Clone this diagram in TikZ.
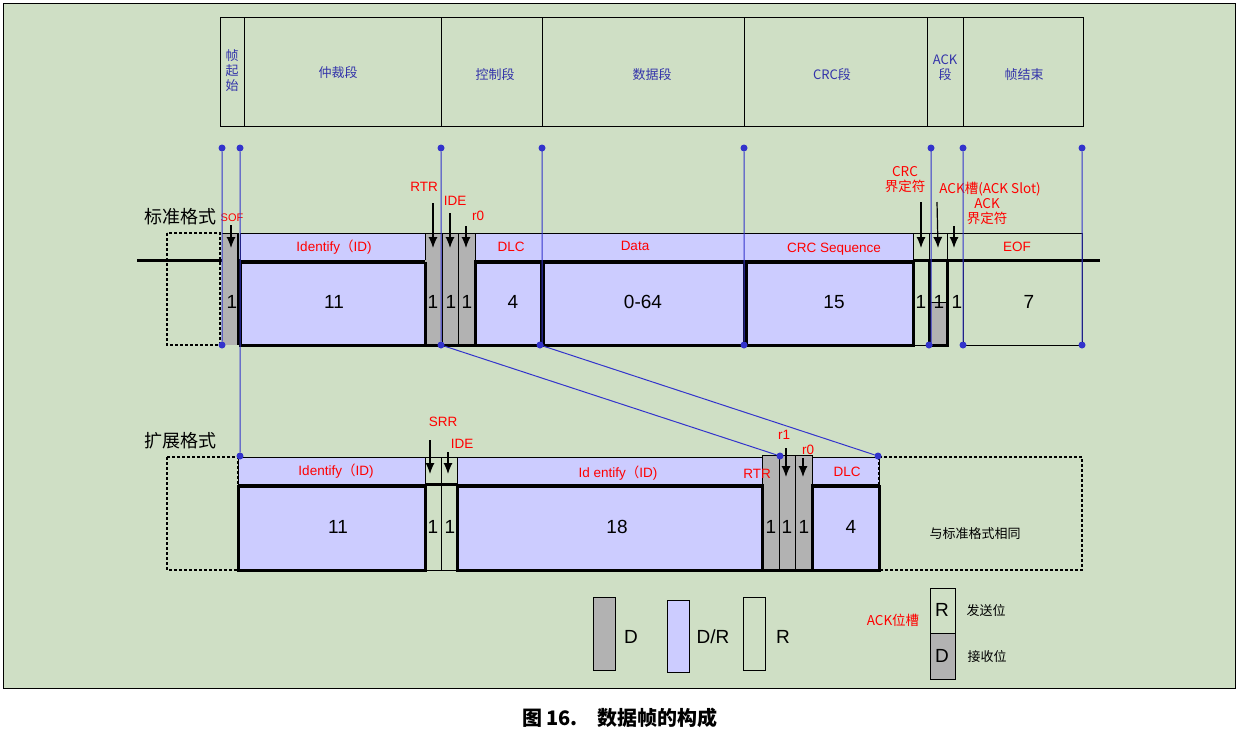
\documentclass[tikz,border=0pt]{standalone}
\usepackage{fontspec}
\usetikzlibrary{arrows.meta}
\setmainfont{Liberation Sans}
\newfontfamily\cjk{Noto Sans CJK SC}
\newcommand{\lp}{{\cjk （}}
\begin{document}
\begin{tikzpicture}[x=1pt,y=-1pt,
  lav/.style={fill=lavC},
  gry/.style={fill=gryC},
  thk/.style={line width=3pt},
  thn/.style={line width=0.8pt},
  dsh/.style={line width=2.5pt,dash pattern=on 3pt off 2pt},
  num/.style={font=\fontsize{19}{19}\selectfont},
  rl/.style={text=red,font=\fontsize{13.5}{13.5}\selectfont,inner sep=0pt},
  hl/.style={text=bluT,font=\cjk\fontsize{13}{15}\selectfont,align=center},
  bl/.style={draw=bluL,line width=1pt},
  dot/.style={circle,fill=bluL,inner sep=0pt,minimum size=7pt},
  arr/.style={-{Latex[length=11pt,width=9pt]},line width=1.2pt},
]
\definecolor{grn}{HTML}{CFDFC5}
\definecolor{lavC}{HTML}{CCCCFF}
\definecolor{gryC}{HTML}{B2B2B2}
\definecolor{bluL}{HTML}{3333CC}
\definecolor{bluT}{HTML}{3333AA}
\useasboundingbox (0,0) rectangle (1239,740);
\fill[white] (0,0) rectangle (1239,740);
\fill[grn,draw=black,thn] (3,3) rectangle (1235,688);
\node[font=\cjk\bfseries\fontsize{20}{20}\selectfont] (cap) at (620,718) {图 16.\quad 数据帧的构成};
% header
\draw[thn] (220,17) rectangle (1083,126);
\foreach \x in {244,441,542,744,927,963} \draw[thn] (\x,17) -- (\x,126);
\node[hl] (h1) at (232,71) {帧\\起\\始};
\node[hl] (h2) at (338,73) {仲裁段};
\node[hl] (h3) at (495,75) {控制段};
\node[hl] (h4) at (652,75) {数据段};
\node[hl] (h5) at (832,75) {CRC段};
\node[hl] (h6) at (945,68) {ACK\\段};
\node[hl] (h7) at (1024,75) {帧结束};
\node[font=\cjk\fontsize{18}{18}\selectfont] (s1) at (180,217) {标准格式};
\node[font=\cjk\fontsize{18}{18}\selectfont] (s2) at (180,441) {扩展格式};
% ===== standard frame
\draw[thk] (137,260) -- (1100,260);
\draw[dsh] (167,233) rectangle (220,345);
\draw[thn] (913,233) rectangle (1082,260);
\draw[thn] (963,260) rectangle (1082,345);
\fill[gryC] (222,233) rectangle (238,345);
\draw[thn] (222,233) -- (238,233);
\draw[lav,thn] (240,233) rectangle (425,260);
\draw[lav,thk] (240,262) rectangle (425,345);
\draw[gry,thn] (425,233) rectangle (475,260);
\fill[gryC] (425,260) rectangle (475,345);
\draw[thk] (425,262) -- (425,345) -- (475,345) -- (475,260);
\draw[thn] (442,233) -- (442,345) (458,233) -- (458,345);
\draw[lav,thn] (475,233) rectangle (913,260);
\draw[lav,thk] (475,262) rectangle (541,345);
\draw[lav,thk] (543,262) rectangle (744,345);
\draw[lav,thk] (746,262) rectangle (913,345);
\draw[thn] (929,233) -- (929,260) (947,233) -- (947,260);
\fill[gryC] (929,302) rectangle (947,345);
\draw[thn] (929,302) -- (947,302);
\draw[thk] (929,262) -- (929,345) -- (947,345) -- (947,262);
\draw[thn] (913,345) -- (929,345);
\draw[line width=1.5pt] (238,233) -- (238,345);
% labels standard
\node[rl,font=\fontsize{11}{11}\selectfont] (lsof) at (232,218) {SOF};
\node[rl] (lid) at (334,247) {Identify\lp ID)};
\node[rl] (ldlc) at (511,247) {DLC};
\node[rl] (ldata) at (635,246) {Data};
\node[rl] (lcrc) at (834,249) {CRC Sequence};
\node[rl] (leof) at (1017,247) {EOF};
\node[rl] (lrtr) at (424,187) {RTR};
\node[rl] (lide) at (455,201) {IDE};
\node[rl] (lr0) at (478,216) {r0};
\node[rl,align=center,font=\cjk\fontsize{13.5}{15}\selectfont] (lcd) at (905,180) {CRC\\界定符};
\node[rl,font=\cjk\fontsize{13.5}{13.5}\selectfont] (lslot) at (990,189) {ACK槽(ACK Slot)};
\node[rl,align=center,font=\cjk\fontsize{13.5}{15}\selectfont] (lad) at (987,212) {ACK\\界定符};
\coordinate (a1) at (231,225); \coordinate (a1e) at (231,248);
\coordinate (a2) at (433,203); \coordinate (a2e) at (433,248);
\coordinate (a3) at (450,213); \coordinate (a3e) at (450,248);
\coordinate (a4) at (466,226); \coordinate (a4e) at (466,248);
\coordinate (a5) at (921,202); \coordinate (a5e) at (921,248);
\coordinate (a6) at (937,202); \coordinate (a6e) at (938,248);
\coordinate (a7) at (954,226); \coordinate (a7e) at (954,248);
\foreach \s in {1,...,7} \draw[arr] (a\s) -- (a\s e);
\foreach \x/\t in {232/1,334/11,433/1,451/1,467/1,513/4,643/0-64,834/15,921/1,939/1,957/1,1029/7}
  \node[num] at (\x,302) {\t};
% ===== extended frame
\draw[dsh] (167,457) rectangle (238,570);
\draw[dsh] (879,457) -- (1082,457) -- (1082,570) -- (879,570);
\draw[thk] (238,484) -- (879,484);
\draw[lav,thn] (238,457) rectangle (425,484);
\draw[lav,thk] (238,486) rectangle (425,570);
\draw[thn] (425,457) rectangle (457,484);
\draw[thn] (441,457) -- (441,570) (425,570) -- (457,570);
\draw[thk] (425,486) -- (425,570);
\draw[lav,thn] (457,457) rectangle (762,484);
\draw[lav,thk] (457,486) rectangle (762,570);
\draw[gry,thn] (762,455) rectangle (812,570);
\draw[thn] (779,455) -- (779,570) (795,455) -- (795,570);
\draw[thk] (762,484) -- (762,570) -- (812,570) -- (812,484);
\draw[lav,thn] (812,457) rectangle (879,484);
\draw[lav,thk] (812,486) rectangle (879,570);
\draw[dsh] (879,457) -- (879,570);
\node[rl] (eid) at (336,471) {Identify\lp ID)};
\node[rl] (eid2) at (618,473) {Id entify\lp ID)};
\node[rl] (ertr) at (757,474) {RTR};
\node[rl] (edlc) at (847,472) {DLC};
\node[rl] (esrr) at (443,422) {SRR};
\node[rl] (eide) at (462,444) {IDE};
\node[rl] (er1) at (784,435) {r1};
\node[rl] (er0) at (808,450) {r0};
\node[font=\cjk\fontsize{13}{13}\selectfont] (same) at (975,534) {与标准格式相同};
\coordinate (b1) at (430,440); \coordinate (b1e) at (430,474);
\coordinate (b2) at (448,452); \coordinate (b2e) at (448,474);
\coordinate (b3) at (786,448); \coordinate (b3e) at (786,477);
\coordinate (b4) at (803,458); \coordinate (b4e) at (803,477);
\foreach \s in {1,...,4} \draw[arr] (b\s) -- (b\s e);
\foreach \x/\t in {338/11,433/1,450/1,617/18,771/1,787/1,804/1,851/4}
  \node[num] at (\x,527) {\t};
% ===== blue guide lines
\foreach \n/\x in {t1/222,t2/240,t3/441,t4/542,t5/744,t6/931,t7/963,t8/1082}
  \node[dot] (\n) at (\x,148) {};
\foreach \n/\x in {p1/222,p3/441,p4/540,p5/744,p6/929,p7/963,p8/1082}
  \node[dot] (\n) at (\x,345) {};
\node[dot] (q2) at (240,456) {};
\node[dot] (q3) at (780,456) {};
\node[dot] (q4) at (878,456) {};
\draw[bl] (t1) -- (p1) (t2) -- (q2) (t3) -- (p3) (t4.center) -- (542,345) -- (p4)
  (t5) -- (p5) (t6.center) -- (931,345) -- (p6) (t7) -- (p7) (t8) -- (p8)
  (p3) -- (q3) (p4) -- (q4);
% ===== legend
\draw[gry,thn] (593,597) rectangle (615,670);
\node[num] (ld) at (631,637) {D};
\draw[lav,thn] (667,600) rectangle (689,672);
\node[num] (ldr) at (713,637) {D/R};
\draw[thn] (743,597) rectangle (765,670);
\node[num] (lr) at (783,637) {R};
\node[rl,font=\cjk\fontsize{13.5}{13.5}\selectfont] (ack) at (893,620) {ACK位槽};
\draw[thn] (930,588) rectangle (955,633);
\draw[gry,thn] (930,633) rectangle (955,679);
\node[num] (kr) at (942,610) {R};
\node[num] (kd) at (942,656) {D};
\node[font=\cjk\fontsize{13}{13}\selectfont] (fs) at (986,611) {发送位};
\node[font=\cjk\fontsize{13}{13}\selectfont] (js) at (987,657) {接收位};
\end{tikzpicture}
\end{document}
